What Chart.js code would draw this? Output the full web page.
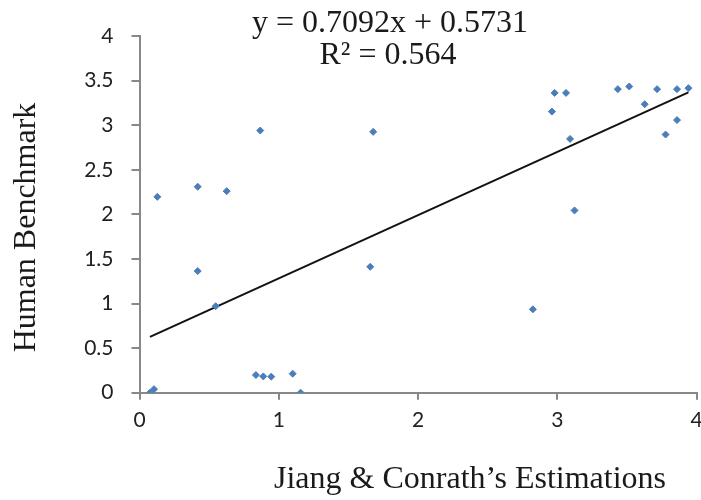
<!DOCTYPE html>
<html>
<head>
<meta charset="utf-8">
<script src="https://cdn.jsdelivr.net/npm/chart.js@4"></script>
<style>
  html, body { margin: 0; padding: 0; background: #fff; }
  #wrap { width: 701px; height: 500px; position: relative; }
</style>
</head>
<body>
<div id="wrap"><canvas id="c" width="701" height="500"></canvas></div>
<script>
// ---- Data ----
const xValues = [0.075, 0.104, 0.128, 0.418, 0.418, 0.547, 0.626, 0.836, 0.867, 0.889, 0.946, 1.10, 1.157,
                 1.657, 1.678, 2.825, 2.962, 2.981, 3.063, 3.092, 3.124, 3.435, 3.517, 3.628, 3.717, 3.778,
                 3.86, 3.86, 3.942];
const yValues = [0.0, 0.04, 2.196, 2.31, 1.364, 0.97, 2.26, 0.198, 2.94, 0.183, 0.18, 0.213, 0.0,
                 1.412, 2.925, 0.935, 3.152, 3.362, 3.362, 2.846, 2.044, 3.404, 3.434, 3.235, 3.404, 2.895,
                 3.404, 3.057, 3.415];
const trendSlope = 0.7092;
const trendIntercept = 0.5731;
const rSquared = 0.564;
const xTickValues = [0, 1, 2, 3, 4];
const yTickValues = [0, 0.5, 1, 1.5, 2, 2.5, 3, 3.5, 4];
const xTitle = "Jiang & Conrath\u2019s Estimations";
const yTitle = "Human Benchmark";
const equationText = "y = " + trendSlope + "x + " + trendIntercept;
const r2Text = "R\u00B2 = " + rSquared;

const points = xValues.map((x, i) => ({ x: x, y: yValues[i] }));
const xMin = Math.min(...xValues), xMax = Math.max(...xValues);
const trend = [xMin, xMax].map(x => ({ x: x, y: trendSlope * x + trendIntercept }));

const axisGray = '#888888';
const tickFont = { family: 'Lato', size: 21 };
const fmt = (v) => String(v);

const textPlugin = {
  id: 'texts',
  afterDraw(chart) {
    const ctx = chart.ctx;
    ctx.save();
    ctx.fillStyle = '#1a1a1a';
    ctx.font = '32px "Liberation Serif"';
    ctx.textAlign = 'center';
    ctx.textBaseline = 'alphabetic';
    ctx.fillText(equationText, 390, 32);
    ctx.fillText(r2Text, 388, 64);
    ctx.fillText(xTitle, 470, 488);
    ctx.translate(35, 227.5);
    ctx.rotate(-Math.PI / 2);
    ctx.fillText(yTitle, 0, 0);
    ctx.restore();
  }
};

new Chart(document.getElementById('c'), {
  type: 'scatter',
  data: {
    datasets: [
      {
        type: 'line',
        data: trend,
        borderColor: '#111111',
        borderWidth: 2,
        pointRadius: 0,
        fill: false,
        order: 1
      },
      {
        data: points,
        pointStyle: 'rectRot',
        pointRadius: 3.5,
        pointHoverRadius: 3.5,
        backgroundColor: '#4a7ebb',
        borderColor: '#4a7ebb',
        borderWidth: 1,
        order: 0
      }
    ]
  },
  options: {
    responsive: false,
    animation: false,
    devicePixelRatio: 1,
    layout: { padding: { top: 36, right: 4, left: 0, bottom: 0 } },
    plugins: { legend: { display: false }, tooltip: { enabled: false } },
    scales: {
      x: {
        type: 'linear',
        min: 0, max: 4,
        afterBuildTicks: (s) => { s.ticks = xTickValues.map(v => ({ value: v })); },
        afterFit: (s) => { s.height = 107.3; s.paddingLeft = 0; s.paddingRight = 0; },
        border: { color: axisGray, width: 2 },
        grid: { drawOnChartArea: false, drawTicks: true, tickLength: 7, color: axisGray, lineWidth: 2 },
        ticks: { font: tickFont, color: '#222222', padding: 8, maxRotation: 0, callback: fmt }
      },
      y: {
        type: 'linear',
        min: 0, max: 4,
        afterBuildTicks: (s) => { s.ticks = yTickValues.map(v => ({ value: v })); },
        afterFit: (s) => { s.width = 139.5; s.paddingTop = 0; s.paddingBottom = 0; },
        border: { color: axisGray, width: 2 },
        grid: { drawOnChartArea: false, drawTicks: true, tickLength: 8, color: axisGray, lineWidth: 2 },
        ticks: { font: tickFont, color: '#222222', padding: 18, callback: fmt }
      }
    }
  },
  plugins: [textPlugin]
});
</script>
</body>
</html>
